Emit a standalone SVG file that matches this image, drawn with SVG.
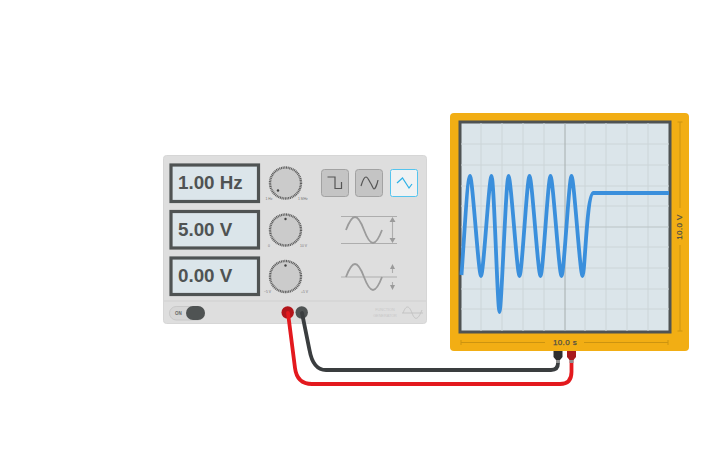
<svg xmlns="http://www.w3.org/2000/svg" width="725" height="453" viewBox="0 0 725 453">
<style>
text{font-family:"Liberation Sans",Arial,sans-serif}
.lcd{fill:#dbe5ea;stroke:#4f5353;stroke-width:3.2}
.val{font-size:18.8px;font-weight:700;fill:#4f5353}
.tick{font-size:3.4px;fill:#777}
.btn{fill:#c4c4c4;stroke:#a2a2a2;stroke-width:1}
.glyph{fill:none;stroke:#555;stroke-width:1.2}
.wave{fill:none;stroke:#9b9b9b;stroke-width:1.8}
.ref{stroke:#adadad;stroke-width:1.1;fill:none}
.grid{stroke:#ccd5d8;stroke-width:1}
.knob{fill:#cbcbcb}
.ring{fill:none;stroke:#5c5c5c;stroke-width:2.4;stroke-dasharray:1 .7}
.dot{fill:#444}
.scale{stroke:#cc9410;stroke-width:1;fill:none}
.slabel{font-size:8px;fill:#4f4e44;stroke:#4f4e44;stroke-width:.25;letter-spacing:.4px}
</style>
<g id="function-generator">
<rect x="163.500" y="155.500" width="263" height="168" rx="3" fill="#dedede" stroke="#d6d6d6"/>
<line x1="164" y1="301" x2="426" y2="301" stroke="#d0d0d0"/>
</g>
<g id="display-frequency"><rect class="lcd" x="171" y="165" width="87.500" height="36.500"/><text class="val" x="178" y="189.300">1.00 Hz</text></g>
<g id="display-amplitude"><rect class="lcd" x="171" y="211.500" width="87.500" height="36.500"/><text class="val" x="178" y="235.500">5.00 V</text></g>
<g id="display-offset"><rect class="lcd" x="171" y="258" width="87.500" height="36.500"/><text class="val" x="178" y="281.500">0.00 V</text></g>
<g id="knob-frequency"><circle class="knob" cx="285.500" cy="183" r="16"/><circle class="ring" cx="285.500" cy="183" r="15.500"/><circle class="dot" cx="278" cy="190.500" r="1.200"/><text class="tick" x="265.500" y="199.500">1 Hz</text><text class="tick" x="298" y="199.500">1 MHz</text></g>
<g id="knob-amplitude"><circle class="knob" cx="285.500" cy="230" r="16"/><circle class="ring" cx="285.500" cy="230" r="15.500"/><circle class="dot" cx="285.500" cy="219" r="1.200"/><text class="tick" x="268" y="246.500">0</text><text class="tick" x="300" y="246.500">10 V</text></g>
<g id="knob-offset"><circle class="knob" cx="285.500" cy="276.500" r="16"/><circle class="ring" cx="285.500" cy="276.500" r="15.500"/><circle class="dot" cx="285.500" cy="265.500" r="1.200"/><text class="tick" x="264" y="293">−5 V</text><text class="tick" x="301" y="293">+5 V</text></g>
<g id="button-square"><rect class="btn" x="321.500" y="169.500" width="27" height="27" rx="3"/><path class="glyph" d="M327.500 177H335V188.500H341.500V182"/></g>
<g id="button-sine"><rect class="btn" x="355.500" y="169.500" width="27" height="27" rx="3"/><path class="glyph" d="M361 186C362.500 181 364 177 366 177S369 181 370.500 183S373 189 374 189S377 185 378 180"/></g>
<g id="button-triangle"><rect x="390.500" y="169.500" width="27" height="27" rx="2" fill="#f0f2f3" stroke="#55c4ee"/><path d="M397 183L402.500 178L409 188L412 184" fill="none" stroke="#2fb1e6" stroke-width="1.200"/></g>
<g id="amplitude-icon"><path class="ref" d="M341 216.500H397M341 243.500H397"/><path class="wave" d="M346 230C349 222 352 217 355 217S361 222 364 230S370 243 373 243S379 238 382 230"/><path d="M392.500 219V241" stroke="#adadad" stroke-width="1.100"/><path d="M389.500 222L392.500 217L395.500 222ZM389.500 238L392.500 243L395.500 238Z" fill="#9a9a9a"/></g>
<g id="offset-icon"><path class="ref" d="M341 277H397"/><path class="wave" d="M346 277C349 269 352 264 355 264S361 269 364 277S370 290 373 290S379 285 382 277"/><path d="M392.500 267V273M392.500 282V288" stroke="#adadad" stroke-width="1.100"/><path d="M390 269L392.500 264L395 269ZM390 285L392.500 290L395 285Z" fill="#9a9a9a"/></g>
<g id="power-switch"><rect x="169.500" y="306.500" width="35" height="13.500" rx="6.700" fill="#d6d6d6" stroke="#c8c8c8"/><rect x="186" y="306" width="19" height="14" rx="7" fill="#4f5353"/><text x="175" y="315" font-size="4.500" font-weight="700" fill="#666">ON</text></g>
<g id="terminals"><circle cx="287.700" cy="312.500" r="6.200" fill="#b3141a"/><circle cx="301.700" cy="312.500" r="6.200" fill="#4f5353"/></g>
<g id="brand"><text x="385" y="311" font-size="3.800" text-anchor="middle" fill="#c8c8c8">FUNCTION</text><text x="385" y="316.500" font-size="3.800" text-anchor="middle" fill="#c8c8c8">GENERATOR</text><path d="M402 313H423M403 313C406 305 409 305 412 313S418 320 422 310" fill="none" stroke="#c4c4c4"/></g>
<g id="oscilloscope">
<rect x="450" y="113" width="239" height="238" rx="4" fill="#f2ae14"/>
<rect x="460" y="122" width="210" height="210" fill="#dbe5ea" stroke="#4f5353" stroke-width="3"/>
<path class="grid" d="M481 123V331M502 123V331M523 123V331M544 123V331M585 123V331M606 123V331M627 123V331M648 123V331M461 144H669M461 165H669M461 186H669M461 206H669M461 247H669M461 268H669M461 289H669M461 309H669"/>
<path d="M565 123V331" stroke="#a6aeae" stroke-width="1"/><path d="M461 227H669" stroke="#bac3c5" stroke-width="1"/>
<path d="M461.500 275C464 240 467.500 176 470 176C472.500 176 478.500 276 481 276C483.500 276 489 176 491.500 176C494 176 497.500 312 499.500 312C501.500 312 506 176 508.500 176C511 176 517 276 519.500 276C522 276 527 176 529.500 176C532 176 538 276 540.500 276C543 276 548 176 550.500 176C553 176 559 276 561.500 276C564 276 569 176 571.500 176C574 176 580 276 582.500 276C585 276 586.500 193 593.500 193H669" fill="none" stroke="#3a8fdc" stroke-width="3.800" stroke-linejoin="round"/>
<path class="scale" d="M461 342.500H545M461 340V345M584 342.500H668M668 340V345M680 122V208M677.500 122H682.500M680 245V331M677.500 331H682.500"/>
<text class="slabel" x="565" y="345" text-anchor="middle">10.0 s</text>
<text class="slabel" transform="translate(682 227) rotate(-90)" text-anchor="middle">10.0 V</text>
</g>
<g id="connectors" fill="none" stroke-linecap="round">
<path d="M302 313L309.500 350Q313 370 326 370H551Q558 370 558 363V358" stroke="#3a3d3f" stroke-width="3.800"/>
<path d="M288 313L295 368Q297 384 312 384H560Q571.500 384 571.500 372V358" stroke="#e3191e" stroke-width="3.800"/>
</g>
<g id="probes"><path d="M556 358H560V363H556ZM569.500 358H573.500V363H569.500Z" fill="#8f8f8f"/><path d="M553.500 351H562.500V357L560 360H556L553.500 357Z" fill="#2e2e2e"/><path d="M567 351H576V357L573.500 360H569.500L567 357Z" fill="#a81a1e"/></g>
</svg>
